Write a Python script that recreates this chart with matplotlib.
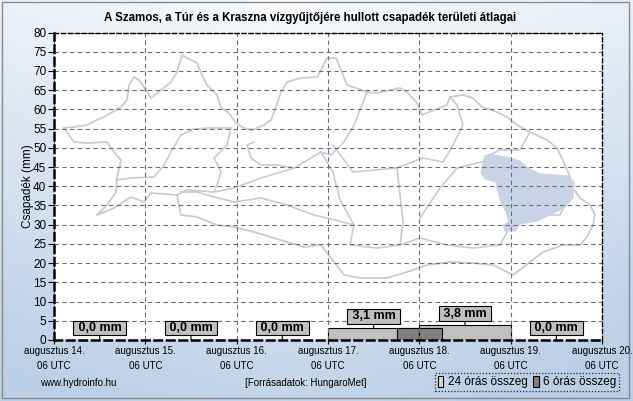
import numpy as np
import matplotlib
matplotlib.use("Agg")
import matplotlib.pyplot as plt
from matplotlib.patches import Patch, Rectangle, Polygon

plt.rcParams['font.family'] = ['Liberation Sans', 'DejaVu Sans']

# ---------------- data ----------------
title = "A Szamos, a Túr és a Kraszna vízgyűjtőjére hullott csapadék területi átlagai"
day_labels = ["augusztus 14.", "augusztus 15.", "augusztus 16.", "augusztus 17.",
              "augusztus 18.", "augusztus 19.", "augusztus 20."]
hour_label = "06 UTC"
daily_totals = [0.0, 0.0, 0.0, 3.1, 3.8, 0.0]          # 24 h sums, starting 06 UTC
six_hour_start_h = [90, 96]                               # hours after Aug 14 06 UTC
six_hour_totals = [3.0, 3.1]
y_ticks = list(range(0, 85, 5))
y_label = "Csapadék (mm)"
legend_labels = ["24 órás összeg", "6 órás összeg"]
footer_left = "www.hydroinfo.hu"
footer_mid = "[Forrásadatok: HungaroMet]"

# ---------------- decorative background map (pixel outline of the reference image) ----------------
map_outline_px = [
    (64,128),(74,127),(87,125),(97,120),(104,117),(121,107),(127,100),(129,85),(134,77),(139,80),
    (144,87),(151,98),(161,90),(171,82),(177,72),(182,55),(187,58),(197,63),(202,75),(207,85),
    (217,95),(221,108),(229,113),(236,123),(244,128),(252,130),(264,125),(271,120),(276,107),
    (281,92),(287,82),(301,78),(317,77),(321,70),(327,58),(336,58),(341,70),(347,85),(353,87),
    (367,92),(377,93),(390,90),(400,88),(407,92),(417,103),(422,115),(447,105),(450,97),(463,95),
    (473,98),(482,107),(497,112),(507,117),(517,125),(530,132),(547,140),(557,148),(565,165),
    (570,177),(573,188),(580,198),(590,205),(595,215),(593,225),(587,237),(580,245),(563,245),
    (543,252),(530,262),(513,275),(493,265),(473,263),(450,262),(427,265),(407,272),(387,278),
    (360,278),(344,275),(331,258),(321,245),(304,247),(287,242),(254,232),(234,227),(217,225),
    (197,217),(181,215),(177,195),(151,193),(144,202),(131,197),(114,208),(97,215),(107,205),
    (116,192),(117,178),(121,160),(114,152),(107,142),(87,143),(74,142),(64,128)]
map_inner_px = [
    [(231,128),(210,128),(194,129),(181,135),(171,152),(164,165),(154,177),(131,178),(116,180)],
    [(231,128),(227,145),(214,158),(221,172),(217,185),(214,192),(187,190),(177,195)],
    [(214,192),(234,188),(261,178),(281,172),(294,168),(321,152),(331,155),(344,142),(354,125),(367,92)],
    [(254,142),(247,145),(251,158),(261,165),(277,165),(294,168)],
    [(333,145),(353,172),(397,168),(423,158),(443,162),(453,145),(463,125),(457,105),(450,97)],
    [(397,168),(400,195),(403,222),(400,245)],
    [(420,218),(440,188),(457,168),(482,162)],
    [(181,192),(197,192),(214,197),(234,202),(261,198),(287,205),(314,215),(327,218),(354,225),
     (350,245),(377,248),(400,245),(420,238),(447,245),(473,248),(500,245),(507,232)],
    [(321,152),(333,172),(340,200),(354,225)],
    [(530,132),(520,150),(500,150),(485,157)],
    [(573,188),(560,215),(545,215)],
]
map_region_px = [
    (483,163),(485,156),(490,154),(510,158),(520,161),(528,168),(540,174),(568,176),(574,182),
    (573,198),(565,207),(552,214),(537,221),(520,224),(515,231),(505,231),(503,225),(509,222),
    (506,212),(501,202),(498,192),(496,182),(485,179),(481,173)]

# ---------------- figure ----------------
W, H = 633, 401
fig = plt.figure(figsize=(W / 100, H / 100), dpi=100)

# gradient background
bg = fig.add_axes([0, 0, 1, 1], zorder=-10)
yy, xx = np.mgrid[0:1:H * 1j, 0:1:W * 1j]
t = np.clip(yy * 0.85 + np.abs(xx - 0.45) * 0.45, 0, 1)
c0 = np.array([0.975, 0.982, 0.99])
c1 = np.array([0.73, 0.81, 0.90])
img = c0[None, None, :] * (1 - t[..., None]) + c1[None, None, :] * t[..., None]
bg.imshow(img, aspect='auto', extent=[0, 1, 0, 1], origin='upper')
bg.add_patch(Rectangle((1.5 / W, 3 / H), (W - 6) / W, (H - 4.5) / H, fill=False,
                       edgecolor='#8a8a8a', lw=1.0, transform=bg.transAxes))
bg.set_xlim(0, 1); bg.set_ylim(0, 1)
bg.axis('off')

L, R, T, B = 54, 602, 32.5, 340
ax = fig.add_axes([L / W, 1 - B / H, (R - L) / W, (B - T) / H])
ax.set_facecolor('white')
ax.set_xlim(0, 6)
ax.set_ylim(0, 80)

def to_ax(pts):
    return [((px - L) / (R - L), (B - py) / (B - T)) for px, py in pts]

mapc = '#c6cbd9'
ax.add_patch(Polygon(to_ax(map_region_px), closed=True, facecolor='#c8d4e6',
                     edgecolor='#c8d4e6', lw=0.8, transform=ax.transAxes, zorder=0.6))
oc = np.array(to_ax(map_outline_px))
ax.plot(oc[:, 0], oc[:, 1], color=mapc, lw=1.3, transform=ax.transAxes, zorder=0.5)
for seg in map_inner_px:
    s = np.array(to_ax(seg))
    ax.plot(s[:, 0], s[:, 1], color=mapc, lw=1.2, transform=ax.transAxes, zorder=0.5)

# grid
ax.set_yticks(y_ticks)
ax.set_xticks(range(len(day_labels)))
ax.grid(True, color='#6e6e6e', linestyle=(0, (4, 3)), lw=0.8, zorder=1)
ax.set_axisbelow(False)
for gl in ax.get_xgridlines() + ax.get_ygridlines():
    gl.set_zorder(1)

# bars
starts = np.arange(len(daily_totals))
ax.bar(starts, daily_totals, width=1.0, align='edge', color='#c0c0c0',
       edgecolor='black', lw=0.8, zorder=2)
ax.bar(np.array(six_hour_start_h) / 24.0, six_hour_totals, width=0.25, align='edge',
       color='#808080', edgecolor='black', lw=0.8, zorder=2.5)

# value boxes
for i, v in enumerate(daily_totals):
    txt = " " + f"{v:.1f}".replace('.', ',') + " mm "
    ax.annotate(txt, xy=(i + 0.5, v), xytext=(0, 8.5), textcoords='offset points',
                ha='center', va='center', fontsize=9, fontweight='bold', zorder=4,
                bbox=dict(boxstyle='square,pad=0.1', facecolor='#c0c0c0',
                          edgecolor='black', lw=0.8),
                arrowprops=dict(arrowstyle='-', color='black', lw=0.8,
                                shrinkA=0, shrinkB=0))

# axes styling
for side in ['left', 'bottom']:
    ax.spines[side].set_linestyle((0, (3, 2)))
    ax.spines[side].set_linewidth(1.8)
for side in ['top', 'right']:
    ax.spines[side].set_linestyle((0, (3, 2)))
    ax.spines[side].set_linewidth(1.0)
for s in ax.spines.values():
    s.set_color('black')
    s.set_zorder(5)

ax.set_xticklabels([f"{d}\n{hour_label}" for d in day_labels], fontsize=7, linespacing=1.55)
ax.tick_params(axis='x', length=3, width=0.8, pad=1.5)
ax.tick_params(axis='y', length=4, width=0.8, pad=1.5, labelsize=8.5)

fig.text(28 / W, 1 - 186 / H, y_label, rotation=90, ha='center', va='center', fontsize=8.5)
fig.text(310 / W, 1 - 18 / H, title, ha='center', va='center', fontsize=8.3, fontweight='bold')
fig.text(40 / W, 1 - 383 / H, footer_left, ha='left', va='center', fontsize=7)
fig.text(306 / W, 1 - 383 / H, footer_mid, ha='center', va='center', fontsize=7)

handles = [Patch(facecolor='#d8d8d8', edgecolor='black', lw=0.8),
           Patch(facecolor='#808080', edgecolor='black', lw=0.8)]
leg = fig.legend(handles, legend_labels, loc='center', bbox_to_anchor=(527 / W, 1 - 382 / H),
                 ncol=2, fontsize=8.5, handlelength=0.45, handleheight=1.1,
                 handletextpad=0.35, columnspacing=0.5, borderpad=0.25,
                 fancybox=False, frameon=True, borderaxespad=0)
fr = leg.get_frame()
fr.set_linestyle((0, (1, 1.5)))
fr.set_edgecolor('black')
fr.set_facecolor('none')
fr.set_linewidth(0.9)

fig.savefig("out.png", dpi=100)
